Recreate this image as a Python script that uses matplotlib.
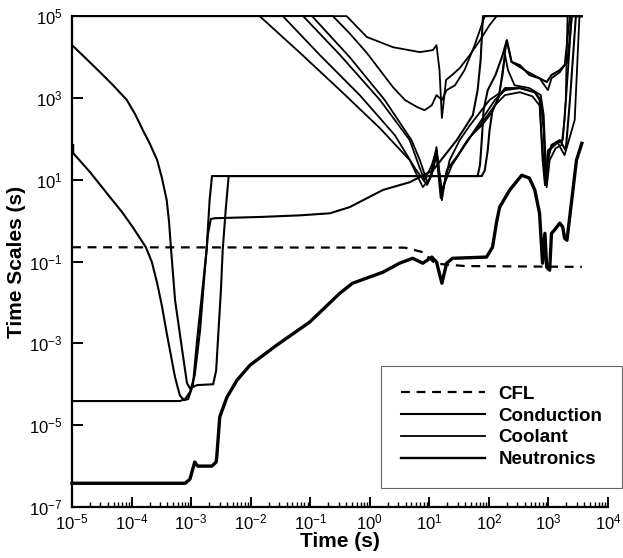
import numpy as np
import matplotlib
matplotlib.use("Agg")
import matplotlib.pyplot as plt
from matplotlib.ticker import LogLocator, NullLocator

plt.rcParams['font.family'] = ['Liberation Sans', 'DejaVu Sans']

# all values are log10 of time (s) and log10 of time scale (s)
t_cfl = [-5.00, 0.59, 0.89, 1.10, 1.60, 3.56]
v_cfl = [-0.65, -0.66, -0.77, -1.05, -1.11, -1.13]

t_neu = [-5.00, -3.10, -3.02, -2.94, -2.89, -2.65, -2.58, -2.57, -2.52, -2.40,
         -2.23, -2.01, -1.56, -1.01, -0.50, -0.29, 0.22, 0.50, 0.72, 0.89,
         1.04, 1.12, 1.21, 1.29, 1.39, 1.96, 2.06, 2.13, 2.18, 2.35,
         2.55, 2.68, 2.77, 2.85, 2.90, 2.94, 2.97, 3.02, 3.05, 3.10,
         3.19, 3.24, 3.27, 3.31, 3.39, 3.47, 3.56]
v_neu = [-6.42, -6.42, -6.32, -5.90, -6.00, -6.00, -5.90, -5.78, -4.80, -4.32,
         -3.90, -3.53, -3.04, -2.48, -1.77, -1.53, -1.26, -1.04, -0.92, -1.04,
         -0.89, -1.01, -1.53, -1.04, -0.92, -0.89, -0.65, -0.02, 0.33, 0.75,
         1.11, 1.04, 0.75, 0.18, -1.04, -0.31, -1.14, -1.21, -0.31, -0.23,
         -0.06, -0.16, -0.43, -0.48, 0.50, 1.48, 1.89]

t_cond1 = [-5.00, -5.00, -4.77, -4.53, -4.31, -4.08, -3.94, -3.81, -3.69, -3.57,
           -3.49, -3.41, -3.37, -3.34, -3.27, -3.15, -3.07, -3.02, -2.90, -2.63,
           -2.58, -2.55, -2.50, -2.47, -2.42, -2.37, 1.81, 1.85, 1.88, 1.91,
           1.98, 2.11, 2.23, 2.30, 2.38, 2.52, 2.68, 2.85, 2.97, 3.05,
           3.19, 3.32, 3.39, 3.56]
v_cond1 = [5.00, 4.29, 3.97, 3.63, 3.31, 2.95, 2.60, 2.21, 1.87, 1.48,
           1.04, 0.50, -0.04, -0.65, -1.94, -3.17, -3.97, -4.10, -4.02, -4.00,
           -3.66, -2.92, -1.70, -0.72, 0.26, 1.09, 1.09, 1.36, 1.97, 2.70,
           3.19, 3.56, 4.05, 4.41, 3.88, 3.80, 3.56, 3.48, 3.39, 3.56,
           3.68, 3.88, 5.00, 5.00]

t_cond2 = [-4.98, -4.98, -4.70, -4.36, -4.16, -3.98, -3.76, -3.66, -3.57, -3.49,
           -3.41, -3.27, -3.19, -3.12, -3.05, -2.97, -2.90, -2.82, -2.74, -2.69,
           -2.65, 1.88, 1.93, 1.98, 2.01, 2.06, 2.18, 2.27, 2.52, 2.77,
           2.87, 2.92, 2.95, 2.99, 3.05, 3.19, 3.29, 3.36, 3.46, 3.56]
v_cond2 = [1.85, 1.65, 1.19, 0.57, 0.21, -0.16, -0.65, -1.01, -1.53, -2.09,
           -2.75, -3.83, -4.27, -4.39, -4.36, -4.02, -2.92, -1.82, -0.72, 0.50,
           1.09, 1.09, 1.23, 1.72, 2.21, 2.70, 3.07, 3.24, 3.24, 3.14,
           2.95, 2.21, 0.87, 1.48, 1.85, 1.97, 1.72, 2.95, 5.00, 5.00]

t_cond3 = [-5.00, -3.19, -3.10, -3.02, -2.94, -2.85, -2.77, -2.72, -2.67, -2.60,
           -1.85, -1.17, -0.67, -0.34, 0.22, 0.67, 1.06, 1.26, 1.46, 1.59,
           1.73, 1.81, 1.86, 1.90, 3.56]
v_cond3 = [-4.41, -4.41, -4.36, -4.19, -3.78, -2.68, -1.21, -0.35, 0.04, 0.06,
           0.09, 0.13, 0.18, 0.33, 0.75, 0.94, 1.23, 1.60, 1.97, 2.26,
           2.58, 3.19, 3.92, 5.00, 5.00]

t_cool_a = [-5.00, -1.85, -1.17, -0.50, 0.17, 0.67, 0.89, 1.01, 1.12, 1.21,
            1.29, 1.43, 1.59, 1.76, 1.93, 2.10, 2.27, 2.52, 2.77, 2.85,
            2.90, 2.94, 2.99, 3.10, 3.24, 3.29, 3.32, 3.56]
v_cool_a = [5.00, 5.00, 4.10, 3.19, 2.26, 1.48, 0.82, 1.04, 1.80, 0.50,
            1.23, 1.48, 1.85, 2.21, 2.58, 2.95, 3.19, 3.24, 3.14, 2.95,
            1.48, 0.87, 1.72, 1.85, 1.97, 2.95, 5.00, 5.00]

t_cool_b = [-5.00, -1.46, -0.84, -0.17, 0.42, 0.76, 0.96, 1.04, 1.12, 1.21,
            1.34, 1.51, 1.68, 1.85, 2.01, 2.18, 2.23, 2.30, 2.38, 2.60,
            2.85, 2.99, 3.05, 3.19, 3.27, 3.36, 3.56]
v_cool_b = [5.00, 5.00, 4.05, 3.07, 2.09, 1.28, 0.87, 1.11, 1.72, 0.62,
            1.48, 1.97, 2.33, 2.65, 2.95, 3.12, 3.68, 4.41, 3.88, 3.68,
            3.48, 3.19, 3.48, 3.63, 3.80, 5.00, 5.00]

t_cool_c = [-5.00, -1.12, -0.50, 0.17, 0.67, 0.84, 0.92, 1.04, 1.12, 1.21,
            1.38, 1.54, 1.71, 1.88, 2.05, 2.15, 2.23, 2.27, 2.32, 2.43,
            2.68, 2.87, 2.92, 2.97, 3.02, 3.12, 3.22, 3.27, 3.39, 3.56]
v_cool_c = [5.00, 5.00, 4.05, 2.95, 1.97, 1.28, 0.99, 1.36, 1.72, 0.75,
            1.36, 1.72, 2.09, 2.33, 2.65, 2.95, 3.56, 4.05, 3.68, 3.31,
            3.24, 3.07, 2.58, 0.82, 1.48, 1.77, 1.85, 2.46, 5.00, 5.00]

t_cool_d = [-5.00, -0.97, -0.34, 0.25, 0.70, 0.84, 0.97, 1.06, 1.12, 1.19,
            1.31, 1.48, 1.64, 1.81, 1.98, 2.10, 2.27, 2.52, 2.73, 2.85,
            2.90, 2.95, 3.02, 3.15, 3.27, 3.44, 3.52, 3.56]
v_cool_d = [5.00, 5.00, 4.00, 2.95, 1.97, 1.48, 0.92, 1.23, 1.60, 0.55,
            1.28, 1.60, 1.97, 2.26, 2.58, 2.82, 3.07, 3.14, 3.04, 2.82,
            1.72, 1.11, 1.72, 1.92, 1.60, 2.46, 5.00, 5.00]

t_cool_e = [-5.00, -0.62, -0.34, -0.05, 0.17, 0.39, 0.59, 0.79, 0.92, 1.04,
            1.12, 1.21, 1.29, 1.43, 1.59, 1.76, 1.93, 3.56]
v_cool_e = [5.00, 5.00, 4.58, 4.10, 3.68, 3.26, 2.95, 2.78, 2.70, 2.82,
            3.07, 2.95, 3.19, 3.31, 3.68, 4.29, 5.00, 5.00]

t_cool_f = [-5.00, -0.39, -0.05, 0.39, 0.84, 1.06, 1.12, 1.17, 1.21, 1.28,
            1.38, 1.51, 1.68, 1.85, 2.01, 2.13, 3.56]
v_cool_f = [5.00, 5.00, 4.49, 4.24, 4.12, 4.17, 4.29, 3.68, 2.51, 3.44,
            3.56, 3.73, 4.05, 4.41, 4.78, 5.00, 5.00]

x_ticks = [-5, -4, -3, -2, -1, 0, 1, 2, 3, 4]
y_ticks = [-7, -5, -3, -1, 1, 3, 5]


def curve(ax, t, v, lw, label=None, **kw):
    line, = ax.plot(10.0 ** np.array(t), 10.0 ** np.array(v), color='black',
                    lw=lw, label=label, clip_on=False, solid_joinstyle='round', **kw)
    return line


fig = plt.figure(figsize=(6.23, 5.58), dpi=100)
ax = fig.add_axes([0.1156, 0.0914, 0.8604, 0.8797])

h_cfl = curve(ax, t_cfl, v_cfl, 1.6, 'CFL', linestyle=(0, (4, 3)))
h_cond = curve(ax, t_cond1, v_cond1, 1.5, 'Conduction')
curve(ax, t_cond2, v_cond2, 1.5)
curve(ax, t_cond3, v_cond3, 1.5)
h_cool = curve(ax, t_cool_a, v_cool_a, 1.3, 'Coolant')
for t, v in [(t_cool_b, v_cool_b), (t_cool_c, v_cool_c), (t_cool_d, v_cool_d),
             (t_cool_e, v_cool_e), (t_cool_f, v_cool_f)]:
    curve(ax, t, v, 1.3)
h_neu = curve(ax, t_neu, v_neu, 2.4, 'Neutronics')

ax.set_xscale('log')
ax.set_yscale('log')
ax.set_xlim(1e-5, 1e4)
ax.set_ylim(1e-7, 1e5)
ax.set_xticks([10.0 ** k for k in x_ticks])
ax.set_yticks([10.0 ** k for k in y_ticks])
ax.xaxis.set_minor_locator(LogLocator(base=10, subs=np.arange(2, 10), numticks=20))
ax.yaxis.set_minor_locator(NullLocator())
ax.tick_params(which='major', direction='in', length=7, width=1.4, labelsize=12)
ax.tick_params(which='minor', direction='in', length=3.5, width=1.0)
ax.tick_params(axis='x', which='major', pad=4)
ax.tick_params(axis='y', which='major', length=8, pad=7)

for side in ['top', 'right']:
    ax.spines[side].set_visible(False)
for side in ['left', 'bottom']:
    ax.spines[side].set_linewidth(1.6)

ax.set_xlabel('Time (s)', fontsize=15, fontweight='bold', labelpad=0)
ax.set_ylabel('Time Scales (s)', fontsize=15, fontweight='bold', labelpad=2)

leg = ax.legend(handles=[h_cfl, h_cond, h_cool, h_neu], loc='lower right',
                bbox_to_anchor=(1.026, 0.039), borderaxespad=0, handlelength=4.5,
                handletextpad=0.7, labelspacing=0.25, borderpad=1.05,
                fancybox=False, framealpha=1, edgecolor='#666666',
                prop={'weight': 'bold', 'size': 13.5})
leg.get_frame().set_linewidth(0.8)
leg.get_lines()[3].set_linewidth(1.7)

fig.savefig('out.png', dpi=100)
